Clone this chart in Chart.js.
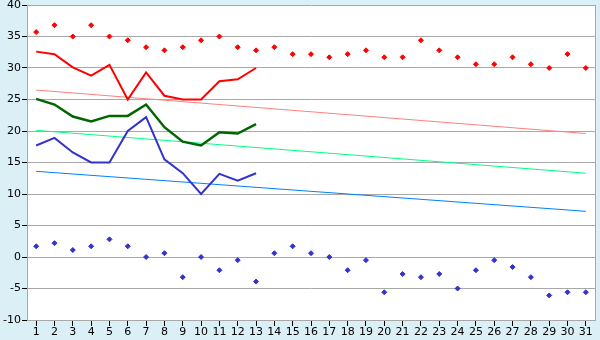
<!doctype html>
<html lang="en">
<head>
<meta charset="utf-8">
<title>Chart</title>
<script src="https://cdn.jsdelivr.net/npm/chart.js@4"></script>
<style>
html, body { margin: 0; padding: 0; background: #daeff6; }
</style>
</head>
<body>
<canvas id="myChart" width="600" height="340"></canvas>
<script>
var days = [];
for (var d = 1; d <= 31; d++) days.push(String(d));

var maxDots = [35.7, 36.8, 35.0, 36.8, 35.0, 34.4, 33.3, 32.8, 33.3, 34.4, 35.0, 33.3, 32.8, 33.3, 32.2, 32.2,
               31.7, 32.2, 32.8, 31.7, 31.7, 34.4, 32.8, 31.7, 30.6, 30.6, 31.7, 30.6, 30.0, 32.2, 30.0];
var minDots = [1.7, 2.2, 1.1, 1.7, 2.8, 1.7, 0.0, 0.6, -3.2, 0.0, -2.1, -0.5, -3.9, 0.6, 1.7, 0.6,
               0.0, -2.1, -0.5, -5.6, -2.7, -3.2, -2.7, -5.0, -2.1, -0.5, -1.6, -3.2, -6.1, -5.6, -5.6];
var maxLine = [32.6, 32.2, 30.1, 28.8, 30.5, 25.0, 29.3, 25.6, 25.0, 25.0, 27.9, 28.2, 30.0];
var meanLine = [25.1, 24.2, 22.3, 21.5, 22.4, 22.4, 24.2, 20.6, 18.3, 17.7, 19.8, 19.6, 21.1];
var minLine = [17.7, 18.9, 16.6, 15.0, 15.0, 20.0, 22.2, 15.5, 13.3, 10.0, 13.2, 12.1, 13.3];

// trend lines: value at day 1 and at day 31
var maxTrend = [26.5, 19.6];
var meanTrend = [20.1, 13.3];
var minTrend = [13.6, 7.25];

function trend(ends) {
    var arr = [];
    for (var i = 0; i < days.length; i++) arr.push(null);
    arr[0] = ends[0];
    arr[days.length - 1] = ends[1];
    return arr;
}

var areaPlugin = {
    id: 'area',
    beforeDraw: function(chart) {
        var a = chart.chartArea, ctx = chart.ctx;
        ctx.save();
        ctx.fillStyle = '#ffffff';
        ctx.fillRect(a.left, a.top, a.right - a.left, a.bottom - a.top);
        ctx.restore();
    },
    afterDraw: function(chart) {
        var a = chart.chartArea, ctx = chart.ctx;
        ctx.save();
        ctx.strokeStyle = '#a8a8a8';
        ctx.lineWidth = 1;
        ctx.beginPath();
        ctx.moveTo(Math.round(a.right) + 0.5, a.top);
        ctx.lineTo(Math.round(a.right) + 0.5, a.bottom);
        ctx.stroke();
        ctx.restore();
    }
};

var font = { family: 'DejaVu Sans', size: 11 };

var ctx = document.getElementById('myChart').getContext('2d');
var myChart = new Chart(ctx, {
    type: 'line',
    data: {
        labels: days,
        datasets: [
            { data: maxLine, borderColor: '#ff0000', borderWidth: 2, pointRadius: 0, fill: false },
            { data: meanLine, borderColor: '#006600', borderWidth: 2.5, pointRadius: 0, fill: false },
            { data: minLine, borderColor: '#3333cc', borderWidth: 2, pointRadius: 0, fill: false },
            { data: maxDots, showLine: false, pointStyle: 'rectRot', pointRadius: 2.5,
              backgroundColor: '#ff0000', borderColor: '#ff0000', borderWidth: 1 },
            { data: minDots, showLine: false, pointStyle: 'rectRot', pointRadius: 2.5,
              backgroundColor: '#3333cc', borderColor: '#3333cc', borderWidth: 1 },
            { data: trend(maxTrend), borderColor: '#ff8080', borderWidth: 1, pointRadius: 0, spanGaps: true },
            { data: trend(meanTrend), borderColor: '#00ff80', borderWidth: 1, pointRadius: 0, spanGaps: true },
            { data: trend(minTrend), borderColor: '#0080ff', borderWidth: 1, pointRadius: 0, spanGaps: true }
        ]
    },
    options: {
        responsive: false,
        animation: false,
        layout: { padding: { top: 5, right: 5, left: 0, bottom: 0 } },
        plugins: { legend: { display: false }, tooltip: { enabled: false } },
        elements: { line: { tension: 0 } },
        scales: {
            x: {
                offset: true,
                grid: { drawOnChartArea: false, color: '#a8a8a8', tickColor: '#000', tickLength: 6 },
                border: { color: '#a8a8a8', width: 1 },
                ticks: { color: '#000', font: font, padding: 0, maxRotation: 0, autoSkip: false },
                afterFit: function(s) { s.height = 20; s.paddingLeft = 0; s.paddingRight = 0; }
            },
            y: {
                min: -10, max: 40,
                grid: { color: '#a8a8a8', tickColor: '#000', tickLength: 5, lineWidth: 1 },
                border: { color: '#a8a8a8', width: 1 },
                ticks: { stepSize: 5, color: '#000', font: font, padding: 1 },
                afterFit: function(s) { s.width = 27; s.paddingTop = 0; s.paddingBottom = 0; }
            }
        }
    },
    plugins: [areaPlugin]
});
</script>
</body>
</html>
